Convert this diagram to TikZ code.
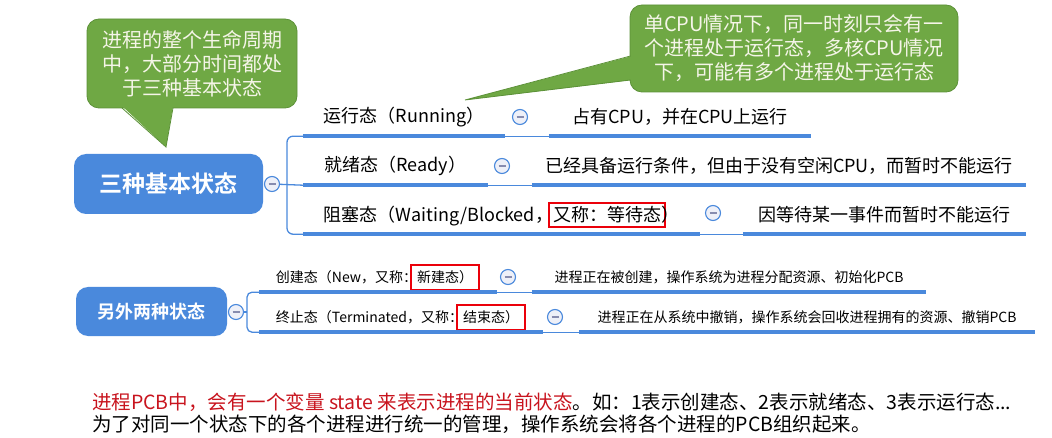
\documentclass[tikz,border=0pt]{standalone}
\usepackage{fontspec}
\setmainfont{Noto Sans CJK SC}[BoldFont={* Bold}]
\usetikzlibrary{positioning}
\definecolor{mapblue}{RGB}{74,137,220}
\definecolor{notegreen}{RGB}{111,168,68}
\definecolor{noteedge}{RGB}{92,145,56}
\definecolor{notetext}{RGB}{245,245,232}
\definecolor{knobfill}{RGB}{238,240,248}
\definecolor{knobminus}{RGB}{135,140,175}
\definecolor{markred}{RGB}{235,0,10}
\definecolor{pcbred}{RGB}{200,20,30}
\newcommand{\redbox}[2][3pt]{\hspace{\dimexpr-#1-2pt\relax}{\color{markred}\setlength{\fboxrule}{2pt}\setlength{\fboxsep}{#1}\fbox{\color{black}#2}}\hspace{\dimexpr-#1-2pt\relax}}
\tikzset{
  note/.style={fill=notegreen, draw=noteedge, line width=0.8pt, rounded corners=12pt,
    text=notetext, align=center, font=\fontsize{20}{24}\selectfont},
  topic/.style={fill=mapblue, rounded corners=12pt, text=white},
  knob/.style={circle, draw=mapblue, fill=knobfill, line width=1.1pt, minimum size=15pt, inner sep=0pt,
    path picture={\draw[knobminus, line width=1.2pt]
      ([xshift=-3.5pt]path picture bounding box.center) -- ([xshift=3.5pt]path picture bounding box.center);}},
  leaf/.style={inner xsep=0pt, inner ysep=0pt, minimum height=38pt, font=\fontsize{18}{22}\selectfont},
  leafs/.style={inner xsep=0pt, inner ysep=0pt, minimum height=29pt, font=\fontsize{14}{17}\selectfont},
  twig/.style={mapblue, line width=1.3pt},
  stem/.style={mapblue, line width=4pt}
}
\begin{document}
\begin{tikzpicture}[x=1pt, y=-1pt]
\useasboundingbox (0,0) rectangle (1052,438);

\node[note, minimum width=210pt, minimum height=89pt] (lifenote) at (192,63.5) {进程的整个生命周期\\中，大部分时间都处\\于三种基本状态};
\coordinate (lifetip) at (166,147);
\fill[notegreen] (122,106) -- (lifetip) -- (173,106) -- cycle;
\draw[noteedge, line width=0.8pt] (122,108) -- (lifetip) -- (173,108);

\node[note, minimum width=328pt, minimum height=87pt] (cpunote) at (794,48.5) {单CPU情况下，同一时刻只会有一\\个进程处于运行态，多核CPU情况\\下，可能有多个进程处于运行态};
\coordinate (cputip) at (465,100);
\fill[notegreen] (632,56) -- (cputip) -- (632,80) -- cycle;
\draw[noteedge, line width=0.8pt] (630.5,56) -- (cputip) -- (630.5,80);

\node[topic, minimum width=189pt, minimum height=60pt, font=\bfseries\fontsize{23}{27}\selectfont] (basic) at (168.5,184) {三种基本状态};
\node[knob] (basicknob) at (272,184) {};
\coordinate (fork) at (287,184);

\node[leaf, minimum width=202pt] (run) at (404,117) {运行态（Running）};
\node[knob] (runknob) at (520,117) {};
\node[leaf, minimum width=262pt] (runinfo) at (680,117) {占有CPU，并在CPU上运行};

\node[leaf, minimum width=185pt] (ready) at (395.5,166) {就绪态（Ready）};
\node[knob] (readyknob) at (502,166) {};
\node[leaf, minimum width=494pt] (readyinfo) at (779,166) {已经具备运行条件，但由于没有空闲CPU，而暂时不能运行};

\node[leaf, minimum width=397pt] (block) at (501.5,215) {阻塞态（Waiting/Blocked，\redbox{又称：等待态}）};
\node[knob] (blockknob) at (713,213) {};
\node[leaf, minimum width=283pt] (blockinfo) at (884.5,215) {因等待某一事件而暂时不能运行};

\draw[twig, rounded corners=6pt] (run.south west) -| (fork) |- (block.south west);
\draw[twig] (basicknob) -- (ready.south west);
\draw[twig] (run.south east) -- (runinfo.south west);
\draw[twig] (ready.south east) -- (readyinfo.south west);
\draw[twig] (block.south east) -- (blockinfo.south west);
\foreach \n in {run,runinfo,ready,readyinfo,block,blockinfo}
  \draw[stem] (\n.south west) -- (\n.south east);

\node[topic, minimum width=151pt, minimum height=49pt, font=\bfseries\fontsize{18}{22}\selectfont] (extra) at (151.5,311.5) {另外两种状态};
\node[knob] (extraknob) at (236,312) {};
\coordinate (fork2) at (247,312);

\node[leafs, minimum width=238pt] (new) at (378,277.5) {创建态（New，又称：\redbox[5pt]{新建态）}};
\node[knob] (newknob) at (508,277) {};
\node[leafs, minimum width=394pt] (newinfo) at (729,277.5) {进程正在被创建，操作系统为进程分配资源、初始化PCB};

\node[leafs, minimum width=284pt] (term) at (401,317.5) {终止态（Terminated，又称：\redbox[5pt]{结束态）}};
\node[knob] (termknob) at (555,317) {};
\node[leafs, minimum width=456pt] (terminfo) at (807,317.5) {进程正在从系统中撤销，操作系统会回收进程拥有的资源、撤销PCB};

\draw[twig, rounded corners=5pt] (new.south west) -| (fork2) |- (term.south west);
\draw[twig] (extraknob) -- (fork2);
\draw[twig] (new.south east) -- (newinfo.south west);
\draw[twig] (term.south east) -- (terminfo.south west);
\foreach \n in {new,newinfo,term,terminfo}
  \draw[stem] (\n.south west) -- (\n.south east);

\node[anchor=west, inner sep=0pt, font=\fontsize{19.5}{22}\selectfont] (pcbline) at (92,402) {\textcolor{pcbred}{进程PCB中，会有一个变量 state 来表示进程的当前状态}。如：1表示创建态、2表示就绪态、3表示运行态...};
\node[anchor=west, inner sep=0pt, font=\fontsize{19.5}{22}\selectfont] (pcbline2) at (92,424) {为了对同一个状态下的各个进程进行统一的管理，操作系统会将各个进程的PCB组织起来。};
\end{tikzpicture}
\end{document}
